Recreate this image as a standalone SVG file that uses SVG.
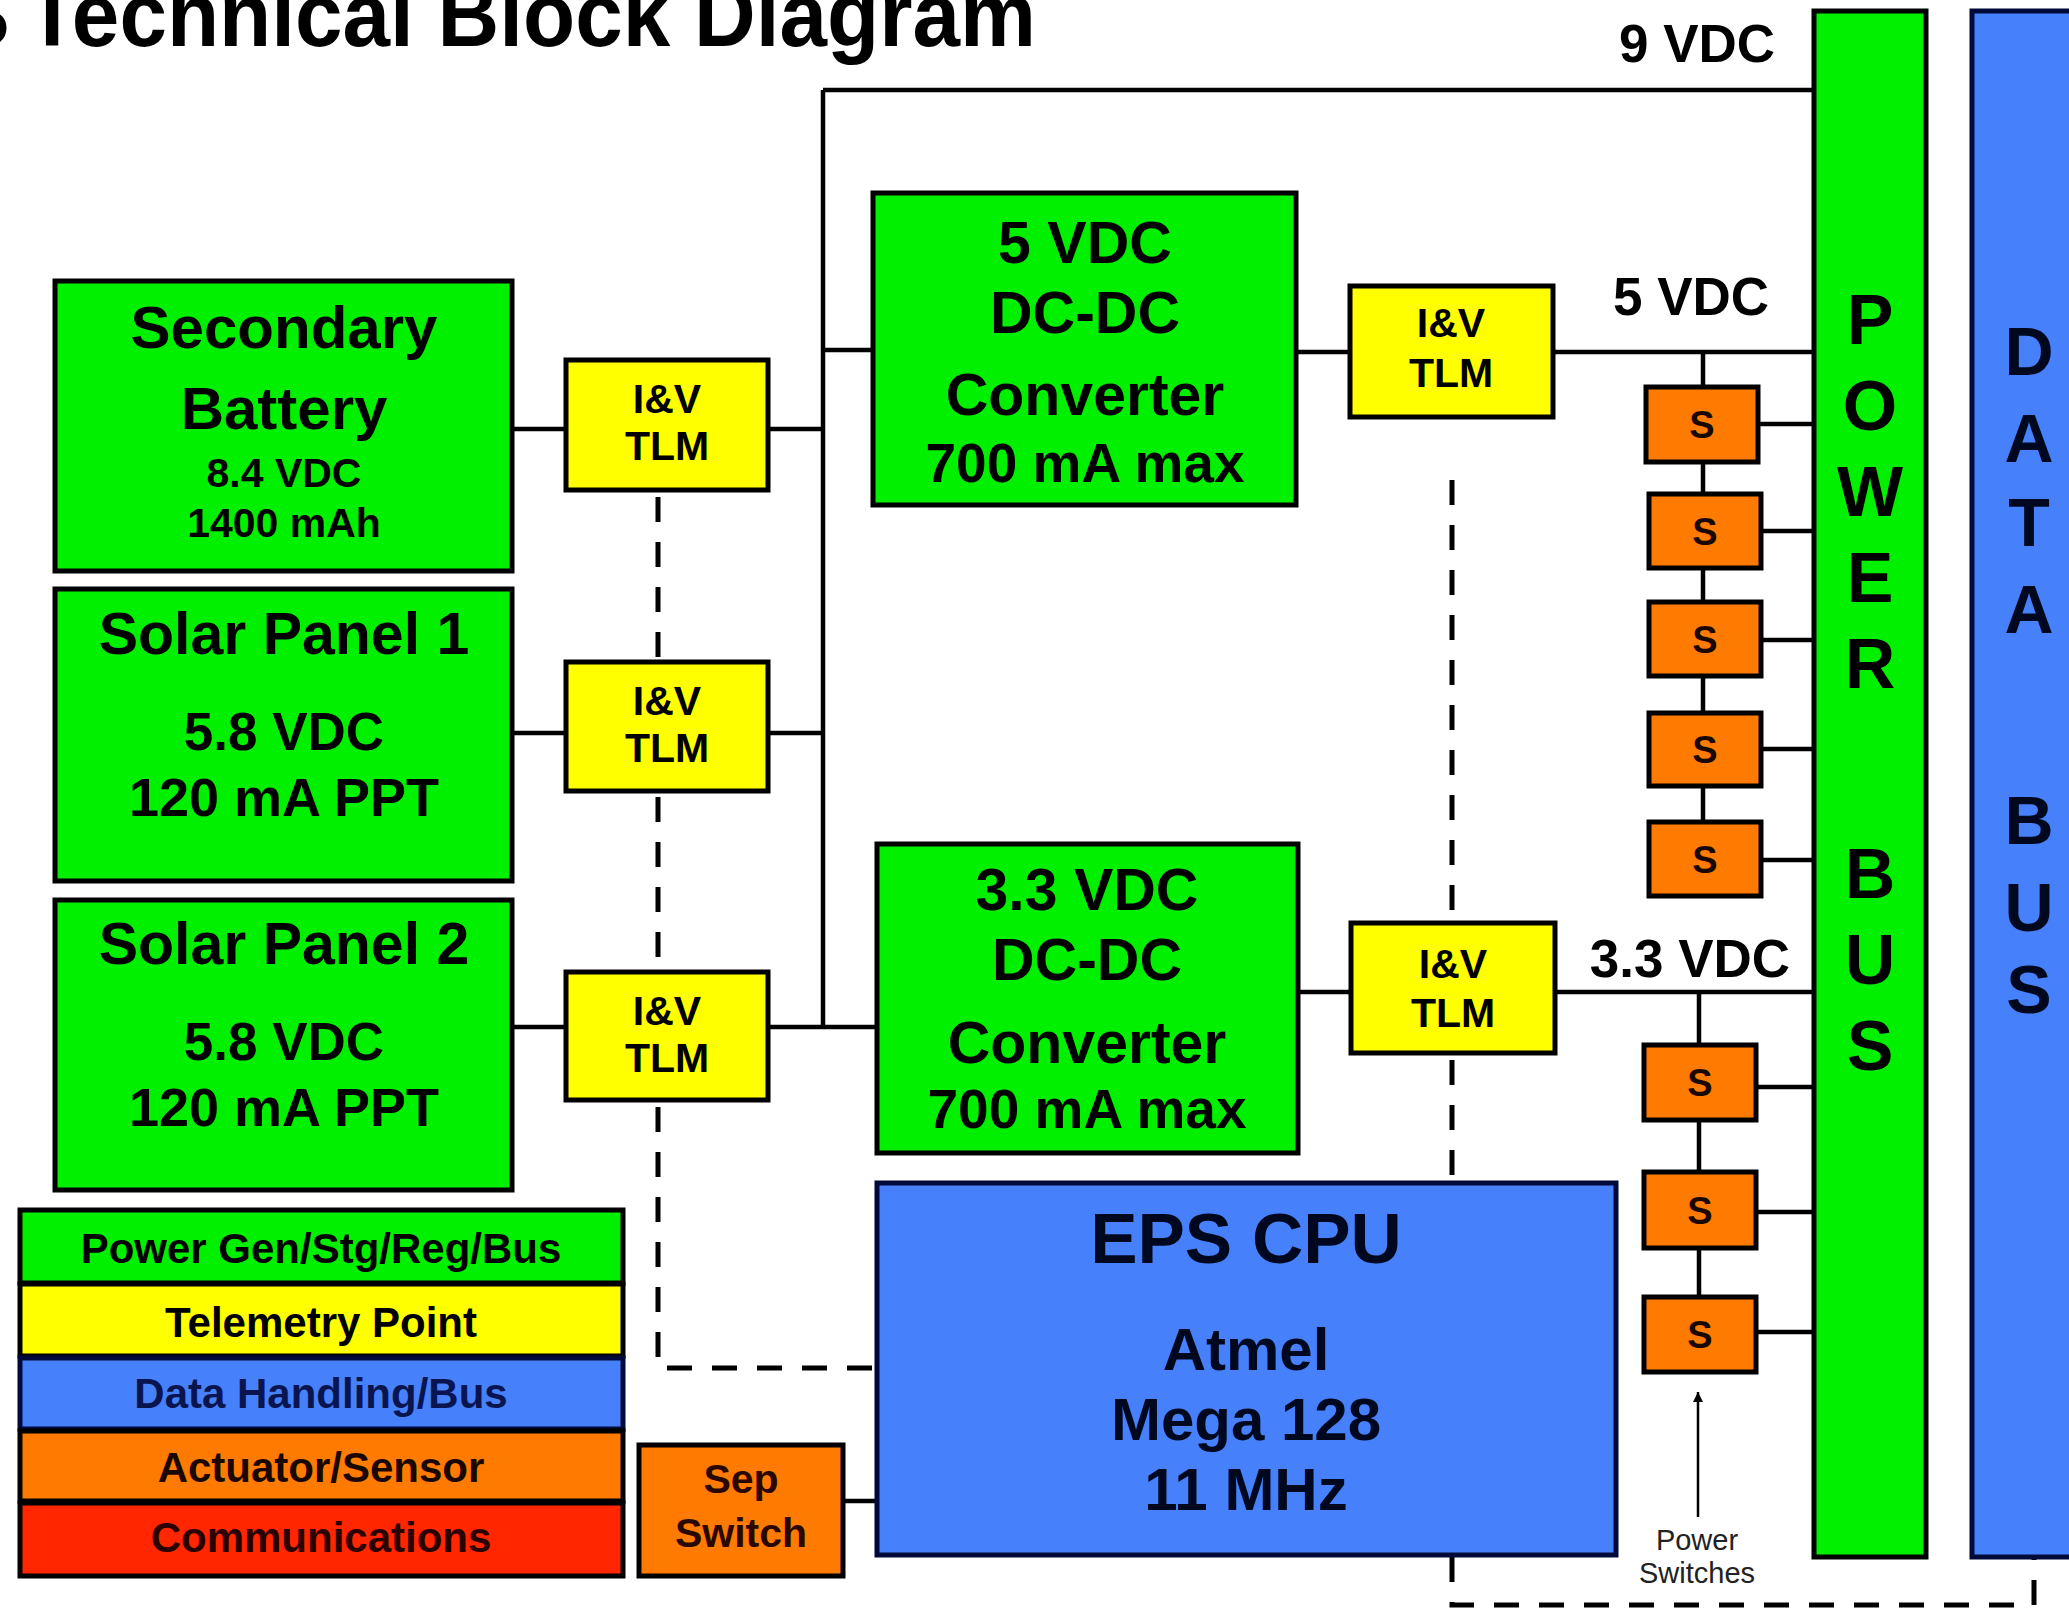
<svg xmlns="http://www.w3.org/2000/svg" width="2069" height="1608" viewBox="0 0 2069 1608">
<style>
  .bx{stroke:#000;stroke-width:5}
  .nv{stroke:#000a3a;stroke-width:5}
  .g{fill:#00f000}
  .y{fill:#ffff00}
  .b{fill:#4680fa}
  .o{fill:#ff7a00}
  .r{fill:#ff2600}
  .ln{stroke:#000;stroke-width:4.5;fill:none}
  .dsh{stroke:#000;stroke-width:5;fill:none;stroke-dasharray:25 20}
  text{font-family:"Liberation Sans",Arial,Helvetica,sans-serif;font-weight:bold;text-anchor:middle;fill:#000}
  .tl{font-size:41px}
  .cv{font-size:59px}
  .lg{font-size:42px}
  .s{font-size:38px;fill:#1a0800}
  .bus{font-size:70px}
</style>
<defs>
  <marker id="ah2" viewBox="0 0 10 10" refX="10" refY="5" markerWidth="16" markerHeight="10" orient="auto-start-reverse" markerUnits="userSpaceOnUse">
    <path d="M0 0 L10 5 L0 10 Z" fill="#000"/>
  </marker>
</defs>
<rect x="0" y="0" width="2069" height="1608" fill="#fff"/>

<g id="title">
  <text y="46" style="font-size:90px;text-anchor:start"><tspan x="-50">S</tspan><tspan x="26" textLength="1010" lengthAdjust="spacingAndGlyphs">Technical Block Diagram</tspan></text>
</g>

<g id="connectors">
  <path class="ln" d="M823 90 H1814 M823 90 V1027"/>
  <path class="ln" d="M823 350 H873"/>
  <path class="ln" d="M768 1027 H877"/>
  <path class="ln" d="M512 429 H566 M768 429 H823"/>
  <path class="ln" d="M512 733 H566 M768 733 H823"/>
  <path class="ln" d="M512 1027 H566"/>
  <path class="ln" d="M1296 352 H1350 M1553 352 H1814"/>
  <path class="ln" d="M1703 352 V823"/>
  <path class="ln" d="M1758 424 H1814 M1761 531 H1814 M1761 640 H1814 M1761 749 H1814 M1761 860 H1814"/>
  <path class="ln" d="M1298 992 H1351 M1555 992 H1814"/>
  <path class="ln" d="M1699 992 V1297"/>
  <path class="ln" d="M1756 1087 H1814 M1756 1212 H1814 M1756 1332 H1814"/>
  <path class="ln" d="M843 1501 H877"/>
  <path class="dsh" d="M658 497 V662 M658 797 V972 M658 1107 V1368 H877"/>
  <path class="dsh" d="M1452 480 V923 M1452 1060 V1183"/>
  <path class="dsh" d="M1452 1557 V1605 H2034 V1557"/>
  <path d="M1698 1517 V1392" stroke="#000" stroke-width="2.5" fill="none" marker-end="url(#ah2)"/>
</g>

<g id="power-bus">
  <rect class="bx g" x="1814" y="11" width="112" height="1546"/>
  <text class="bus"><tspan x="1870" y="344">P</tspan><tspan x="1870" y="430">O</tspan><tspan x="1870" y="516">W</tspan><tspan x="1870" y="602">E</tspan><tspan x="1870" y="688">R</tspan><tspan x="1870" y="898">B</tspan><tspan x="1870" y="984">U</tspan><tspan x="1870" y="1070">S</tspan></text>
</g>

<g id="data-bus">
  <rect class="nv b" x="1972" y="11" width="130" height="1546"/>
  <text class="bus" style="font-size:68px;fill:#000820"><tspan x="2029" y="375">D</tspan><tspan x="2029" y="462">A</tspan><tspan x="2029" y="546">T</tspan><tspan x="2029" y="633">A</tspan><tspan x="2029" y="844">B</tspan><tspan x="2029" y="931">U</tspan><tspan x="2029" y="1013">S</tspan></text>
</g>

<g id="lbl-9v"><text x="1697" y="62" style="font-size:53px">9 VDC</text></g>
<g id="lbl-5v"><text x="1691" y="315" style="font-size:53px">5 VDC</text></g>
<g id="lbl-33v"><text x="1690" y="977" style="font-size:53px">3.3 VDC</text></g>

<g id="battery">
  <rect class="bx g" x="55" y="281" width="457" height="290"/>
  <text x="284" y="348" style="font-size:60px">Secondary</text>
  <text x="284" y="429" style="font-size:60px">Battery</text>
  <text x="284" y="487" style="font-size:41px">8.4 VDC</text>
  <text x="284" y="537" style="font-size:41px">1400 mAh</text>
</g>

<g id="solar1">
  <rect class="bx g" x="55" y="589" width="457" height="292"/>
  <text x="284" y="654" style="font-size:59px">Solar Panel 1</text>
  <text x="284" y="750" style="font-size:53px">5.8 VDC</text>
  <text x="284" y="816" style="font-size:54px">120 mA PPT</text>
</g>

<g id="solar2">
  <rect class="bx g" x="55" y="900" width="457" height="290"/>
  <text x="284" y="964" style="font-size:59px">Solar Panel 2</text>
  <text x="284" y="1060" style="font-size:53px">5.8 VDC</text>
  <text x="284" y="1126" style="font-size:54px">120 mA PPT</text>
</g>

<g id="tlm-bat">
  <rect class="bx y" x="566" y="360" width="202" height="130"/>
  <text class="tl" x="667" y="413">I&amp;V</text>
  <text class="tl" x="667" y="460">TLM</text>
</g>
<g id="tlm-sp1">
  <rect class="bx y" x="566" y="662" width="202" height="129"/>
  <text class="tl" x="667" y="715">I&amp;V</text>
  <text class="tl" x="667" y="762">TLM</text>
</g>
<g id="tlm-sp2">
  <rect class="bx y" x="566" y="972" width="202" height="128"/>
  <text class="tl" x="667" y="1025">I&amp;V</text>
  <text class="tl" x="667" y="1072">TLM</text>
</g>

<g id="conv-5v">
  <rect class="bx g" x="873" y="193" width="423" height="312"/>
  <text class="cv" x="1085" y="263">5 VDC</text>
  <text class="cv" x="1085" y="333">DC-DC</text>
  <text class="cv" x="1085" y="415">Converter</text>
  <text class="cv" x="1085" y="482" style="font-size:55px">700 mA max</text>
</g>

<g id="tlm-5v">
  <rect class="bx y" x="1350" y="286" width="203" height="131"/>
  <text class="tl" x="1451" y="337">I&amp;V</text>
  <text class="tl" x="1451" y="387">TLM</text>
</g>

<g id="conv-33v">
  <rect class="bx g" x="877" y="844" width="421" height="309"/>
  <text class="cv" x="1087" y="910">3.3 VDC</text>
  <text class="cv" x="1087" y="980">DC-DC</text>
  <text class="cv" x="1087" y="1063">Converter</text>
  <text class="cv" x="1087" y="1128" style="font-size:55px">700 mA max</text>
</g>

<g id="tlm-33v">
  <rect class="bx y" x="1351" y="923" width="204" height="130"/>
  <text class="tl" x="1453" y="978">I&amp;V</text>
  <text class="tl" x="1453" y="1027">TLM</text>
</g>

<g id="sw1"><rect class="bx o" x="1646" y="387" width="112" height="75"/><text class="s" x="1702" y="438">S</text></g>
<g id="sw2"><rect class="bx o" x="1649" y="494" width="112" height="74"/><text class="s" x="1705" y="545">S</text></g>
<g id="sw3"><rect class="bx o" x="1649" y="602" width="112" height="74"/><text class="s" x="1705" y="653">S</text></g>
<g id="sw4"><rect class="bx o" x="1649" y="713" width="112" height="73"/><text class="s" x="1705" y="763">S</text></g>
<g id="sw5"><rect class="bx o" x="1649" y="822" width="112" height="74"/><text class="s" x="1705" y="873">S</text></g>
<g id="sw6"><rect class="bx o" x="1644" y="1045" width="112" height="75"/><text class="s" x="1700" y="1096">S</text></g>
<g id="sw7"><rect class="bx o" x="1644" y="1172" width="112" height="76"/><text class="s" x="1700" y="1224">S</text></g>
<g id="sw8"><rect class="bx o" x="1644" y="1297" width="112" height="75"/><text class="s" x="1700" y="1348">S</text></g>

<g id="power-switches-label">
  <text x="1697" y="1550" style="font-size:29px;font-weight:normal;fill:#222">Power</text>
  <text x="1697" y="1583" style="font-size:29px;font-weight:normal;fill:#222">Switches</text>
</g>

<g id="eps-cpu">
  <rect class="nv b" x="877" y="1183" width="739" height="372"/>
  <text x="1246" y="1263" style="font-size:71px;fill:#000820">EPS CPU</text>
  <text x="1246" y="1370" style="font-size:60px;fill:#000820">Atmel</text>
  <text x="1246" y="1440" style="font-size:60px;fill:#000820">Mega 128</text>
  <text x="1246" y="1510" style="font-size:60px;fill:#000820">11 MHz</text>
</g>

<g id="sep-switch">
  <rect class="bx o" x="639" y="1445" width="204" height="131"/>
  <text x="741" y="1493" style="font-size:41px;fill:#2a0800">Sep</text>
  <text x="741" y="1547" style="font-size:41px;fill:#2a0800">Switch</text>
</g>

<g id="legend">
  <rect class="bx g" x="20" y="1210" width="603" height="73"/>
  <rect class="bx y" x="20" y="1284" width="603" height="72"/>
  <rect class="nv b" x="20" y="1358" width="603" height="71"/>
  <rect class="bx o" x="20" y="1431" width="603" height="70"/>
  <rect class="bx r" x="20" y="1503" width="603" height="73"/>
  <text class="lg" x="321" y="1263">Power Gen/Stg/Reg/Bus</text>
  <text class="lg" x="321" y="1337">Telemetry Point</text>
  <text class="lg" x="321" y="1408" style="fill:#0a1550">Data Handling/Bus</text>
  <text class="lg" x="321" y="1482" style="fill:#1a0800">Actuator/Sensor</text>
  <text class="lg" x="321" y="1552" style="fill:#2a0000">Communications</text>
</g>
</svg>
